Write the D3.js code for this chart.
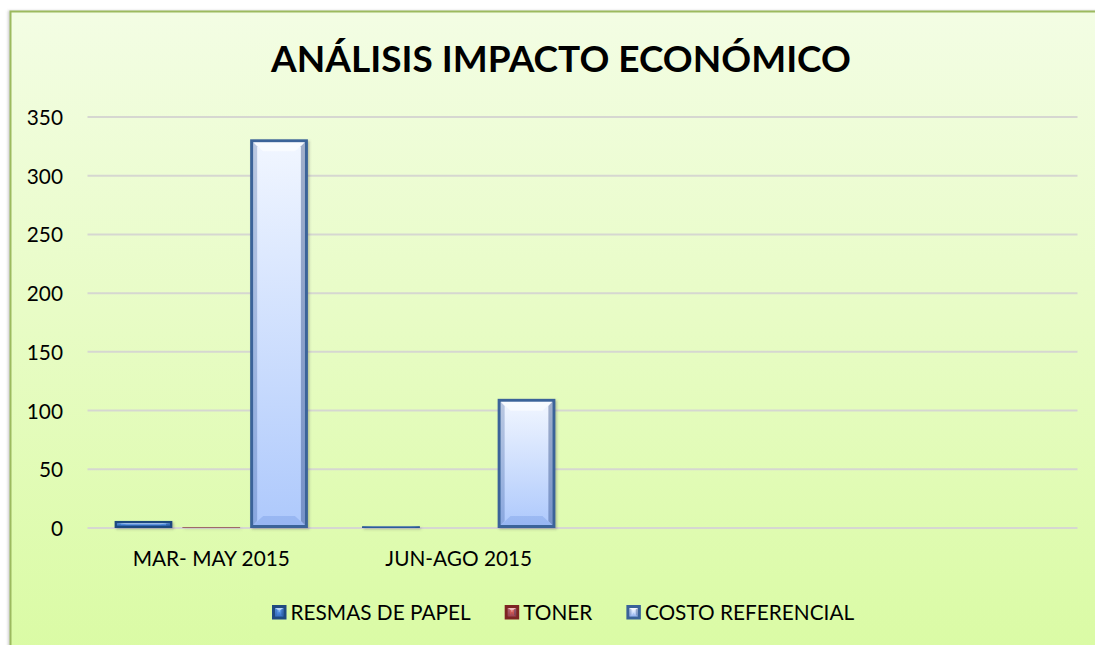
<!DOCTYPE html>
<html>
<head>
<meta charset="utf-8">
<script src="https://cdn.jsdelivr.net/npm/d3@7"></script>
<style>
  html, body { margin: 0; padding: 0; background: #ffffff; }
  svg { display: block; }
  text { font-family: Lato, "Open Sans", sans-serif; fill: #000; }
</style>
</head>
<body>
<svg id="chart" width="1095" height="645"></svg>
<script>
// ---- data ----
const chartTitle = "ANÁLISIS IMPACTO ECONÓMICO";
const categories = ["MAR- MAY 2015", "JUN-AGO 2015", "", ""];
const seriesNames = ["RESMAS DE PAPEL", "TONER", "COSTO REFERENCIAL"];
const resmasValues = [6, 1.5, null, null];
const tonerValues = [0.3, 0, null, null];
const costoValues = [331, 110, null, null];
const yTicks = [0, 50, 100, 150, 200, 250, 300, 350];

const seriesValues = [resmasValues, tonerValues, costoValues];

// ---- look of each series (bevelled Office-style bars) ----
const seriesStyle = [
  { edge: "#1f4a80", top: "#63a2f2", bottom: "#3d79c9" },
  { edge: "#7d2523", top: "#e0706c", bottom: "#b8413e" },
  { edge: "#3a6399", top: "#f1f6ff", bottom: "#aec9fc" }
];

const W = 1095, H = 645;
const plot = { left: 87.5, right: 1077.5, top: 117, bottom: 528 };
const labelSize = 20.8;

const svg = d3.select("#chart");
const defs = svg.append("defs");

// chart-area background gradient
const bg = defs.append("linearGradient").attr("id", "bgGrad")
  .attr("x1", 0).attr("y1", 0).attr("x2", 0).attr("y2", 1);
bg.append("stop").attr("offset", "0%").attr("stop-color", "#f3fde4");
bg.append("stop").attr("offset", "45%").attr("stop-color", "#e8fcc6");
bg.append("stop").attr("offset", "100%").attr("stop-color", "#d9fba2");

seriesStyle.forEach((s, i) => {
  const g = defs.append("linearGradient").attr("id", "barGrad" + i)
    .attr("x1", 0).attr("y1", 0).attr("x2", 0).attr("y2", 1);
  g.append("stop").attr("offset", "0%").attr("stop-color", s.top);
  g.append("stop").attr("offset", "100%").attr("stop-color", s.bottom);
});

const shadow = defs.append("filter").attr("id", "barShadow")
  .attr("x", "-20%").attr("y", "-20%").attr("width", "140%").attr("height", "140%");
shadow.append("feDropShadow").attr("dx", 1.5).attr("dy", 1.5)
  .attr("stdDeviation", 1.3).attr("flood-color", "#555").attr("flood-opacity", 0.35);

const edgeShadow = defs.append("filter").attr("id", "edgeShadow")
  .attr("x", "-5%").attr("y", "-5%").attr("width", "110%").attr("height", "110%");
edgeShadow.append("feDropShadow").attr("dx", -1.5).attr("dy", 0)
  .attr("stdDeviation", 1.2).attr("flood-color", "#888").attr("flood-opacity", 0.4);

// chart area (runs past the right and bottom edges of the page)
svg.append("rect")
  .attr("x", 10.5).attr("y", 11.5).attr("width", W + 20).attr("height", H + 20)
  .attr("fill", "url(#bgGrad)").attr("stroke", "#9cba5e").attr("stroke-width", 2)
  .attr("filter", "url(#edgeShadow)");

// ---- scales ----
const y = d3.scaleLinear().domain([0, 350]).range([plot.bottom, plot.top]);
const x0 = d3.scaleBand().domain(d3.range(categories.length))
  .range([plot.left, plot.right]).padding(0);
const x1 = d3.scaleBand().domain(d3.range(seriesNames.length))
  .range([0, x0.bandwidth()]).paddingInner(0.148).paddingOuter(0.4);

// ---- gridlines ----
svg.append("g").selectAll("line").data(yTicks).join("line")
  .attr("x1", plot.left).attr("x2", plot.right)
  .attr("y1", d => y(d)).attr("y2", d => y(d))
  .attr("stroke", "#d6d7d1").attr("stroke-width", 2);

// ---- y axis labels ----
const yAxis = d3.axisLeft(y).tickValues(yTicks).tickSize(0).tickPadding(0);
const yAxisG = svg.append("g").attr("transform", "translate(63,0)").call(yAxis);
yAxisG.select(".domain").remove();
yAxisG.selectAll("text").attr("font-size", labelSize).attr("fill", "#000")
  .attr("font-family", "Lato, sans-serif").attr("dy", "0.36em");

// ---- x axis labels ----
const xAxis = d3.axisBottom(x0).tickFormat(i => categories[i]).tickSize(0).tickPadding(0);
const xAxisG = svg.append("g").attr("transform", "translate(0,551)").call(xAxis);
xAxisG.select(".domain").remove();
xAxisG.selectAll("text").attr("font-size", labelSize).attr("fill", "#000")
  .attr("font-family", "Lato, sans-serif").attr("dy", "0.72em");

// ---- bevelled bar drawing ----
function bevelBar(g, x, yTop, w, h, si) {
  const s = seriesStyle[si];
  if (h <= 0) return;
  const b = g.append("g");
  b.append("rect").attr("x", x).attr("y", yTop).attr("width", w).attr("height", h)
    .attr("fill", s.edge);
  const e = Math.min(3, h / 3, w / 3);
  const ix = x + e, iy = yTop + e, iw = w - 2 * e, ih = h - 2 * e;
  if (ih <= 0.3) return;
  b.append("rect").attr("x", ix).attr("y", iy).attr("width", iw).attr("height", ih)
    .attr("fill", "url(#barGrad" + si + ")");
  const bt = Math.min(9, ih / 2.5), bs = Math.min(4, iw / 4);
  const poly = (pts, fill) => b.append("polygon")
    .attr("points", pts.map(p => p.join(",")).join(" ")).attr("fill", fill);
  // top bevel (light)
  poly([[ix, iy], [ix + iw, iy], [ix + iw - bs * 2.5, iy + bt], [ix + bs * 2.5, iy + bt]],
    "rgba(255,255,255,0.55)");
  // bottom bevel (slightly shaded)
  poly([[ix, iy + ih], [ix + iw, iy + ih], [ix + iw - bs * 2.5, iy + ih - bt], [ix + bs * 2.5, iy + ih - bt]],
    "rgba(40,90,190,0.16)");
  // left and right bevels
  poly([[ix, iy], [ix + bs, iy + bt * 0.45], [ix + bs, iy + ih - bt * 0.45], [ix, iy + ih]],
    "rgba(30,70,140,0.26)");
  poly([[ix + iw, iy], [ix + iw - bs, iy + bt * 0.45], [ix + iw - bs, iy + ih - bt * 0.45], [ix + iw, iy + ih]],
    "rgba(20,50,110,0.36)");
}

// ---- bars ----
const barsG = svg.append("g").attr("filter", "url(#barShadow)");
categories.forEach((c, ci) => {
  seriesValues.forEach((vals, si) => {
    const v = vals[ci];
    if (v == null || v <= 0) return;
    const bx = x0(ci) + x1(si);
    const top = y(v);
    const h = Math.max(y(0) - top, 0.6);
    bevelBar(barsG, bx, y(0) - h, x1.bandwidth(), h, si);
  });
});

// ---- title ----
svg.append("text").attr("x", 561).attr("y", 72).attr("text-anchor", "middle")
  .attr("font-size", 37).attr("font-weight", "bold").text(chartTitle);

// ---- legend ----
const legendG = svg.append("g");
let lx = 272;
const ly = 605;
seriesNames.forEach((name, si) => {
  const item = legendG.append("g");
  bevelBar(item, lx, ly, 14.5, 14.5, si);
  const t = item.append("text").attr("x", lx + 18.5).attr("y", ly + 7.5)
    .attr("dy", "0.36em").attr("font-size", labelSize).text(name);
  lx += 18.5 + t.node().getComputedTextLength() + 34;
});
</script>
</body>
</html>
